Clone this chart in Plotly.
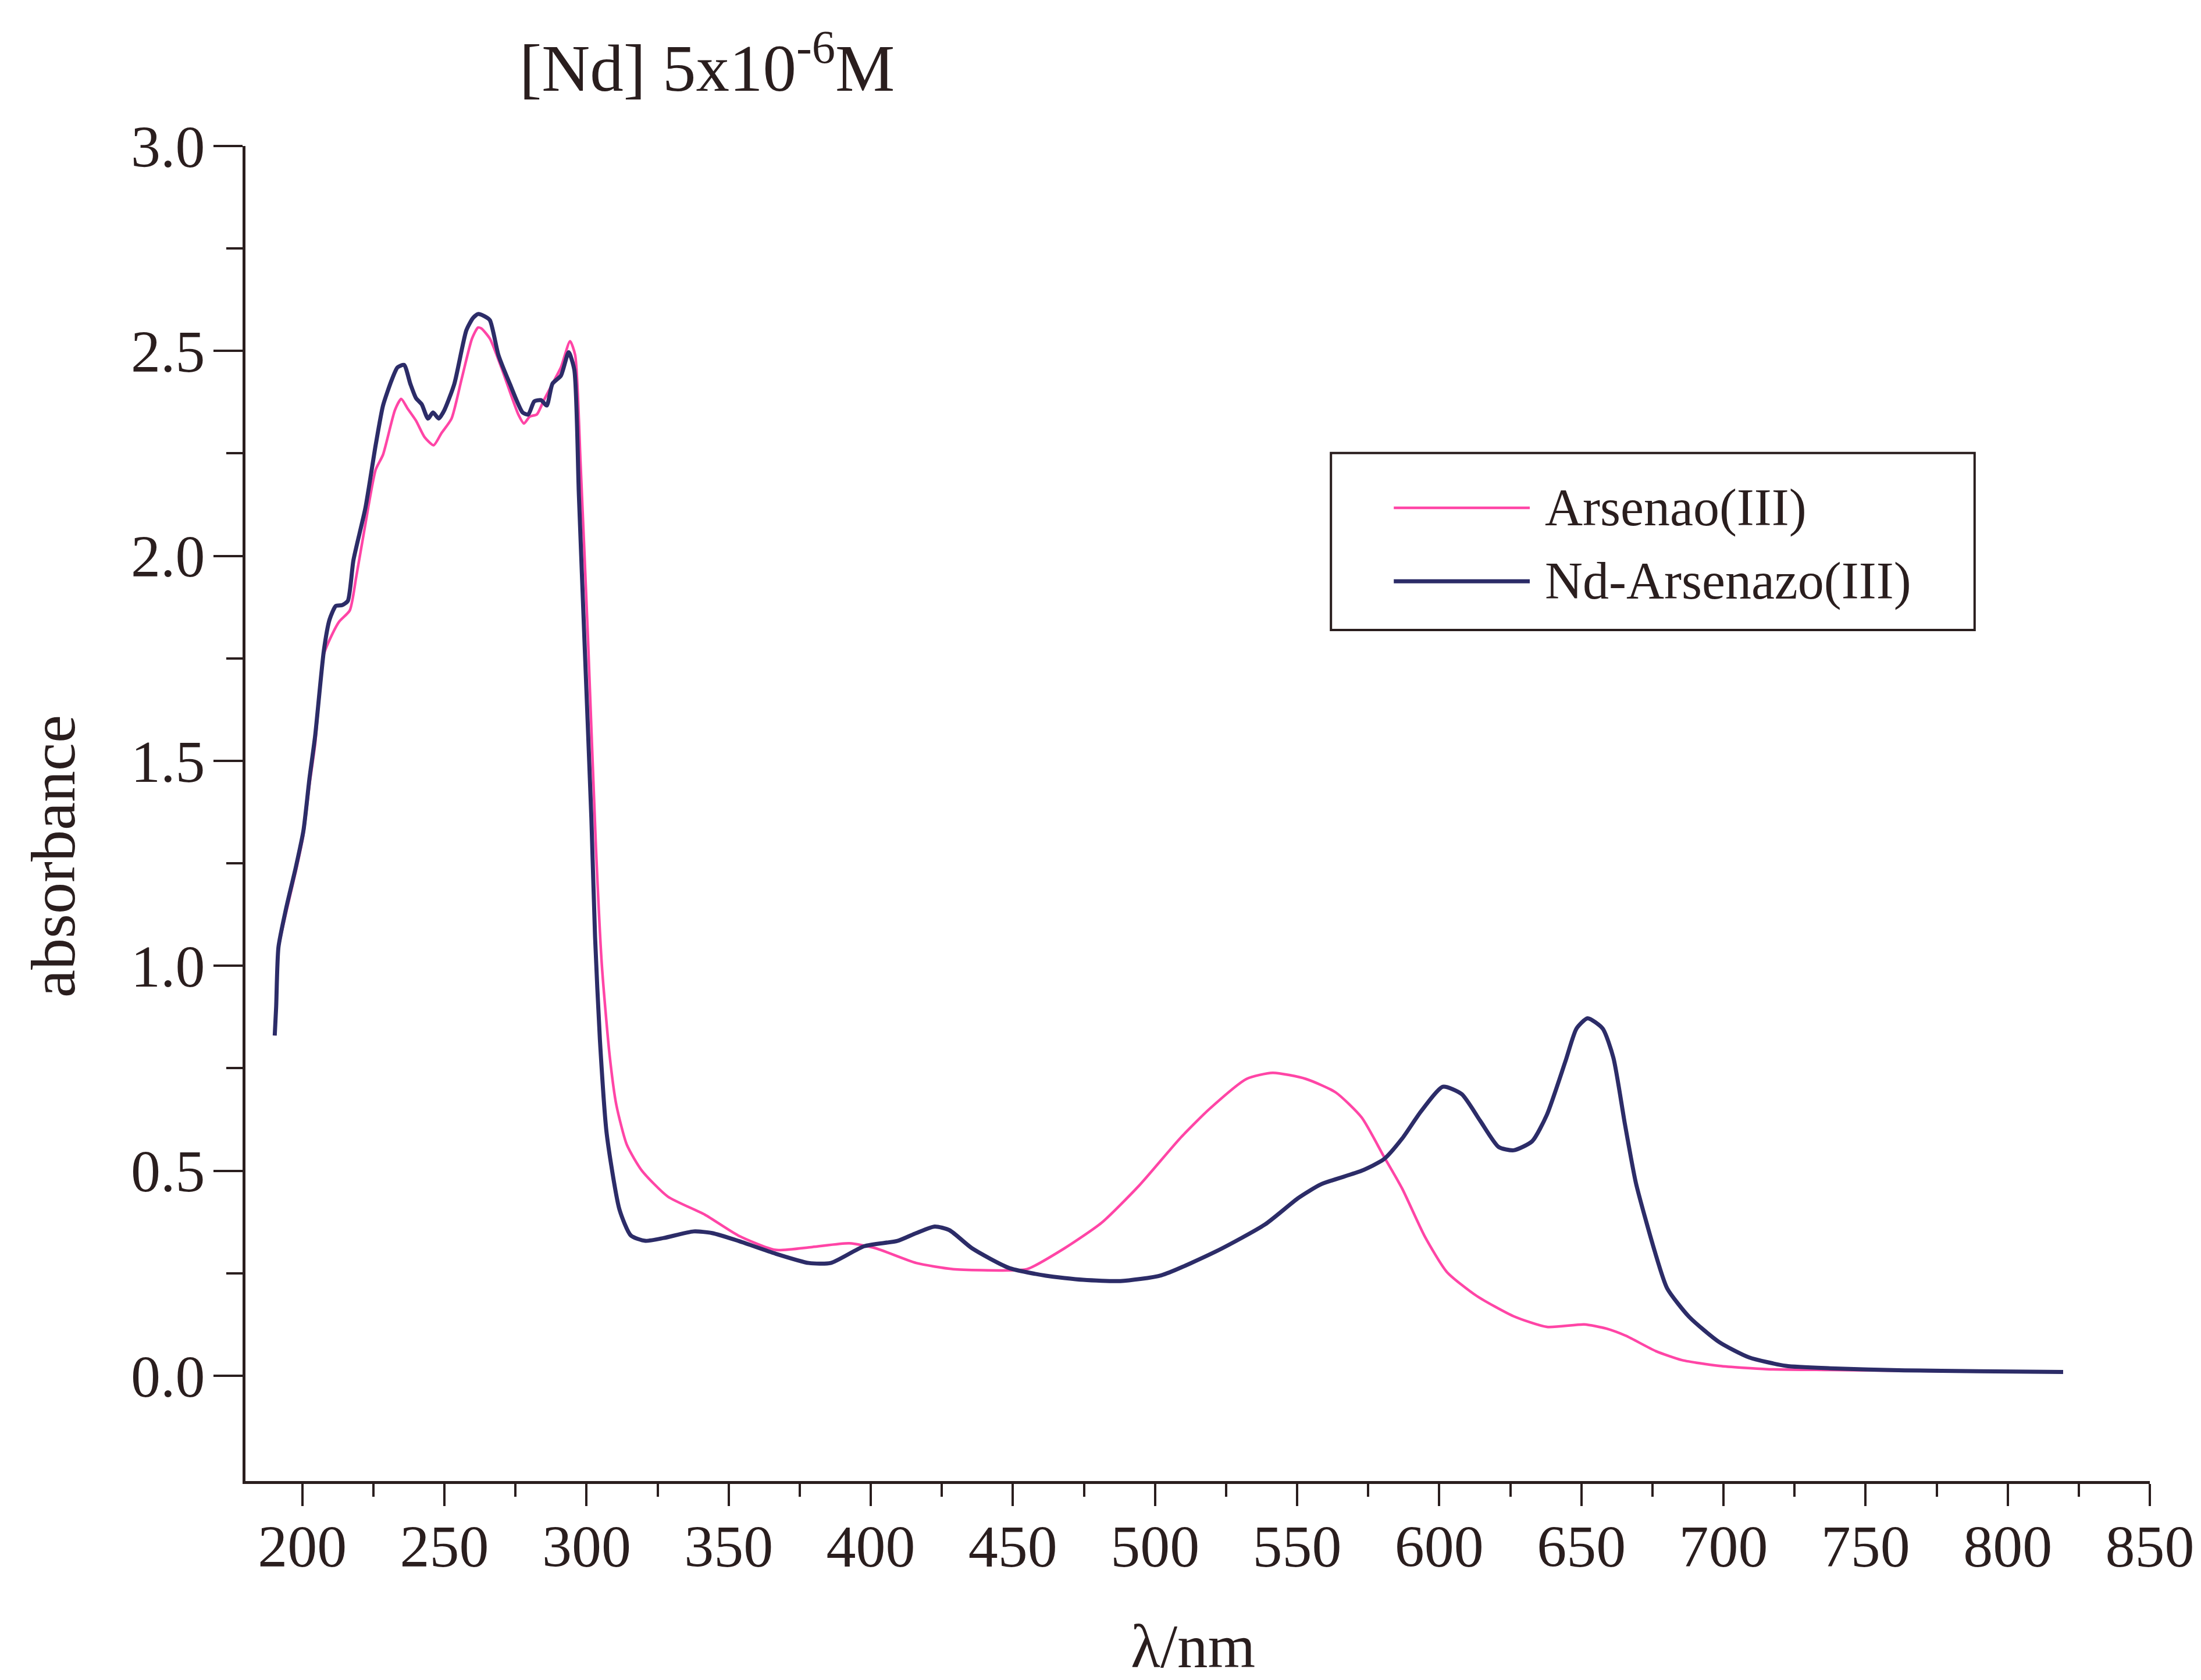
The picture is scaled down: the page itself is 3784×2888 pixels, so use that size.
import plotly.graph_objects as go

# Absorption spectra, wavelength in nm and absorbance
wl_ars = [190.3, 190.8, 191.6, 194.3, 197.7, 200.4, 202.5, 204.5, 207.6, 210.6,
          213.0, 216.7, 219.0, 222.0, 225.8, 228.4, 232.6, 234.8, 237.0, 240.0,
          243.0, 246.2, 249.0, 252.5, 256.0, 259.7, 261.8, 263.0, 266.0, 270.0,
          276.0, 278.0, 280.0, 282.5, 285.0, 288.0, 291.0, 294.2, 296.0, 297.9,
          300.5, 303.3, 305.4, 308.1, 310.5, 314.2, 319.5, 328.6, 341.6, 353.4,
          366.4, 379.4, 392.5, 401.7, 416.0, 429.0, 448.6, 455.0, 468.2, 481.2,
          494.3, 508.8, 519.2, 532.2, 541.4, 553.1, 563.6, 572.7, 580.5, 587.0,
          594.9, 602.7, 613.1, 626.2, 637.9, 651.0, 658.8, 665.8, 676.2, 685.4,
          698.5, 715.4, 737.6, 763.7, 789.8, 819.5]
abs_ars = [0.83, 0.90, 1.04, 1.13, 1.23, 1.32, 1.44, 1.54, 1.76, 1.81,
           1.84, 1.867, 1.95, 2.07, 2.21, 2.247, 2.356, 2.383, 2.36, 2.33,
           2.29, 2.27, 2.30, 2.335, 2.43, 2.53, 2.557, 2.555, 2.53, 2.46,
           2.345, 2.323, 2.34, 2.345, 2.38, 2.42, 2.46, 2.524, 2.49, 2.225,
           1.80, 1.29, 1.00, 0.783, 0.66, 0.563, 0.50, 0.437, 0.393, 0.342,
           0.307, 0.314, 0.323, 0.311, 0.275, 0.26, 0.257, 0.26, 0.311, 0.373,
           0.463, 0.579, 0.651, 0.724, 0.739, 0.724, 0.691, 0.63, 0.535, 0.456,
           0.34, 0.253, 0.195, 0.145, 0.119, 0.125, 0.115, 0.097, 0.06, 0.038,
           0.024, 0.016, 0.014, 0.012, 0.010, 0.009]

wl_nd = [190.3, 190.8, 191.6, 194.3, 197.7, 200.4, 202.5, 204.5, 207.6, 209.6,
         211.8, 214.0, 216.0, 218.0, 222.2, 225.8, 228.4, 231.5, 233.5, 235.8,
         238.0, 240.0, 242.0, 244.2, 246.0, 248.0, 250.0, 253.5, 257.7, 260.0,
         261.8, 264.0, 266.0, 269.0, 273.0, 277.5, 279.5, 281.6, 284.0, 286.0,
         288.0, 291.0, 293.7, 295.7, 297.3, 299.4, 301.7, 303.0, 304.7, 307.1,
         311.6, 315.6, 320.7, 327.2, 337.7, 344.2, 353.4, 366.4, 378.2, 385.9,
         397.7, 409.4, 416.0, 422.5, 427.7, 435.6, 448.6, 461.6, 474.7, 487.8,
         502.2, 521.7, 538.7, 550.5, 558.4, 572.7, 580.5, 587.0, 593.5, 601.3,
         607.9, 614.4, 620.9, 626.2, 632.7, 637.9, 644.4, 648.3, 652.2, 657.5,
         661.3, 665.3, 669.2, 675.8, 680.2, 688.0, 698.5, 708.9, 722.0, 737.6,
         763.7, 789.8, 819.5]
abs_nd = [0.83, 0.90, 1.045, 1.14, 1.24, 1.33, 1.456, 1.56, 1.77, 1.845,
          1.878, 1.88, 1.89, 1.99, 2.117, 2.27, 2.367, 2.43, 2.46, 2.466,
          2.42, 2.385, 2.37, 2.335, 2.35, 2.335, 2.356, 2.42, 2.55, 2.58,
          2.59, 2.585, 2.575, 2.49, 2.42, 2.35, 2.345, 2.377, 2.38, 2.367,
          2.42, 2.44, 2.497, 2.454, 2.15, 1.77, 1.36, 1.07, 0.82, 0.59,
          0.405, 0.342, 0.329, 0.336, 0.352, 0.348, 0.329, 0.298, 0.275, 0.275,
          0.316, 0.329, 0.348, 0.364, 0.355, 0.311, 0.263, 0.244, 0.234, 0.231,
          0.245, 0.304, 0.369, 0.434, 0.467, 0.50, 0.528, 0.579, 0.644, 0.705,
          0.687, 0.622, 0.558, 0.55, 0.572, 0.637, 0.767, 0.847, 0.872, 0.847,
          0.775, 0.615, 0.47, 0.304, 0.213, 0.143, 0.082, 0.045, 0.024, 0.018,
          0.013, 0.011, 0.009]

series_names = ["Arsenao(III)", "Nd-Arsenazo(III)"]
series_colors = ["#FF45A6", "#2C2C68"]

x_ticks = list(range(200, 851, 50))
y_ticks = [0.0, 0.5, 1.0, 1.5, 2.0, 2.5, 3.0]
x_minor = list(range(225, 851, 50))
y_minor = [0.25, 0.75, 1.25, 1.75, 2.25, 2.75]

FONT = "Liberation Serif"
INK = "#2A1E1E"

fig = go.Figure()
fig.add_trace(go.Scatter(x=wl_ars, y=abs_ars, mode="lines", name=series_names[0],
                         line=dict(color=series_colors[0], width=4.5,
                                   shape="spline", smoothing=0.6),
                         showlegend=False))
fig.add_trace(go.Scatter(x=wl_nd, y=abs_nd, mode="lines", name=series_names[1],
                         line=dict(color=series_colors[1], width=7,
                                   shape="spline", smoothing=0.6),
                         showlegend=False))

axis_common = dict(showgrid=False, zeroline=False, showline=True, linecolor=INK,
                   linewidth=5, ticks="outside", tickcolor=INK, tickwidth=4,
                   tickfont=dict(family=FONT, size=102, color=INK), mirror=False)

fig.update_xaxes(range=[180, 850], tickvals=x_ticks, ticklen=38,
                 ticklabelstandoff=-18,
                 minor=dict(tickvals=x_minor, ticks="outside", ticklen=22,
                            tickwidth=4, tickcolor=INK, showgrid=False),
                 **axis_common)
fig.update_yaxes(range=[-0.257, 3.0], tickvals=y_ticks, tickformat=".1f", ticklen=50,
                 ticklabelstandoff=-6,
                 minor=dict(tickvals=y_minor, ticks="outside", ticklen=28,
                            tickwidth=4, tickcolor=INK, showgrid=False),
                 **axis_common)

# Legend drawn as a framed box with line samples
lg_x0, lg_x1, lg_y0, lg_y1 = 0.570, 0.908, 0.6375, 0.770
shapes = [dict(type="rect", xref="paper", yref="paper", x0=lg_x0, x1=lg_x1,
               y0=lg_y0, y1=lg_y1, line=dict(color=INK, width=4), fillcolor="white",
               layer="below")]
annotations = []
row_y = [0.729, 0.674]
for name, color, yy, w in zip(series_names, series_colors, row_y, [4.5, 7]):
    shapes.append(dict(type="line", xref="paper", yref="paper", x0=0.603, x1=0.6744,
                       y0=yy, y1=yy, line=dict(color=color, width=w)))
    annotations.append(dict(xref="paper", yref="paper", x=0.6817, y=yy, text=name,
                            showarrow=False, xanchor="left", yanchor="middle",
                            font=dict(family=FONT, size=90, color=INK)))

annotations += [
    dict(xref="paper", yref="paper", x=0.2425, y=1.062,
         text="[Nd] 5x10<sup>-6</sup>M", showarrow=False,
         xanchor="center", yanchor="middle",
         font=dict(family=FONT, size=115, color=INK)),
    dict(xref="paper", yref="paper", x=-0.1008, y=0.468, text="absorbance",
         textangle=-90, showarrow=False, xanchor="center", yanchor="middle",
         font=dict(family=FONT, size=108, color=INK)),
    dict(xref="paper", yref="paper", x=0.4976, y=-0.124, text="λ/nm",
         showarrow=False, xanchor="center", yanchor="middle",
         font=dict(family=FONT, size=105, color=INK)),
]

fig.update_layout(width=3784, height=2888,
                  margin=dict(l=422, r=88, t=251, b=342),
                  paper_bgcolor="white", plot_bgcolor="white",
                  shapes=shapes, annotations=annotations, showlegend=False)

fig.write_html("out.html")
